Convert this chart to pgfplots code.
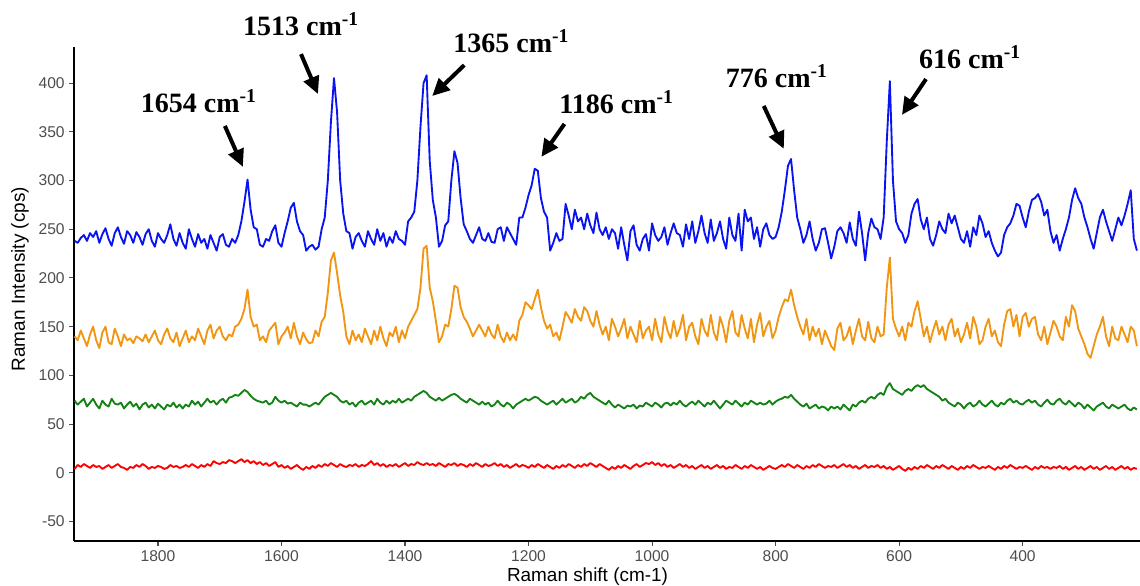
\documentclass[border=0pt]{standalone}
\usepackage{pgfplots}
\pgfplotsset{compat=1.18}
\usepackage{pgfplotstable}
\usepackage{fontspec}
\setmainfont{Liberation Sans}
\newfontfamily\annfont{Liberation Serif}
\usetikzlibrary{arrows.meta}
\definecolor{cblue}{RGB}{10,20,240}
\definecolor{corange}{RGB}{240,150,20}
\definecolor{cgreen}{RGB}{20,130,20}
\definecolor{cred}{RGB}{255,0,0}
\definecolor{tickgrey}{RGB}{77,77,77}

\pgfplotstableread{
x b o g r
1935 238 140 74 4
1930 236 136 70 8
1925 241 146 73 6
1920 244 138 76 9
1915 238 130 68 7
1910 246 142 72 5
1905 242 150 76 8
1900 248 136 70 6
1895 236 128 66 7
1890 245 144 74 4
1885 251 150 70 6
1880 240 134 68 8
1875 233 132 76 5
1870 246 148 71 7
1865 252 140 70 9
1860 242 130 72 6
1855 235 142 66 5
1850 248 136 70 3
1845 244 138 73 6
1840 236 133 68 5
1835 247 140 71 8
1830 242 138 65 6
1825 234 135 70 9
1820 245 142 72 7
1815 250 134 67 4
1810 238 140 70 6
1805 232 146 66 5
1800 246 136 71 7
1795 240 132 68 6
1790 236 142 65 4
1785 244 148 70 5
1780 255 138 68 8
1775 240 134 72 6
1770 233 144 67 7
1765 246 130 70 5
1760 236 138 66 6
1755 230 146 70 8
1750 250 134 68 6
1745 240 140 74 9
1740 232 136 70 7
1735 245 148 73 5
1730 236 140 68 8
1725 240 132 72 6
1720 230 146 76 9
1715 244 152 72 7
1710 236 138 74 12
1705 228 146 70 10
1700 242 150 74 9
1695 245 140 76 11
1690 234 136 72 10
1685 232 142 77 13
1680 240 140 78 12
1675 236 150 80 10
1670 244 152 79 12
1665 258 158 82 14
1660 278 168 85 11
1655 301 188 83 13
1650 270 160 79 10
1645 252 150 76 12
1640 250 152 74 9
1635 234 136 73 11
1630 232 140 72 8
1625 240 134 74 10
1620 238 146 70 7
1615 248 150 72 9
1610 254 154 78 11
1605 236 132 74 6
1600 232 140 72 8
1595 246 144 74 5
1590 258 150 71 7
1585 272 138 72 4
1580 277 154 70 6
1575 258 140 68 8
1570 248 132 72 5
1565 244 144 70 3
1560 228 137 70 6
1555 232 133 68 4
1550 234 134 70 7
1545 229 146 72 5
1540 232 140 70 8
1535 250 155 74 6
1530 262 160 78 9
1525 300 185 80 7
1520 360 218 82 10
1515 405 226 80 8
1510 370 205 78 6
1505 300 182 74 9
1500 266 165 72 7
1495 248 140 74 6
1490 246 132 70 8
1485 230 146 72 7
1480 242 136 68 9
1475 246 142 72 6
1470 238 134 74 8
1465 232 148 70 7
1460 248 140 72 9
1455 240 132 74 12
1450 234 146 70 8
1445 250 136 76 10
1440 238 150 72 7
1435 246 138 70 9
1430 232 130 74 6
1425 242 144 71 8
1420 236 140 74 7
1415 248 150 72 9
1410 240 134 76 6
1405 238 146 72 8
1400 234 138 74 10
1395 258 150 76 7
1390 262 156 74 9
1385 268 162 78 8
1380 300 168 80 11
1375 355 190 82 9
1370 400 230 84 8
1365 408 233 82 10
1360 320 190 78 8
1355 280 176 76 9
1350 262 156 74 7
1345 232 134 77 10
1340 238 140 74 8
1335 254 152 76 6
1330 258 150 78 9
1325 300 168 80 8
1320 330 192 81 10
1315 318 190 79 7
1310 282 170 76 9
1305 255 160 74 8
1300 248 155 72 6
1295 240 148 76 9
1290 236 140 74 7
1285 244 146 72 10
1280 252 152 70 8
1275 240 146 73 6
1270 238 140 70 9
1265 246 150 72 7
1260 237 142 68 8
1255 236 138 70 10
1250 250 152 74 7
1245 252 140 70 9
1240 238 134 68 6
1235 252 144 72 8
1230 246 136 70 5
1225 240 142 66 7
1220 234 136 70 9
1215 262 156 72 6
1210 262 162 74 8
1205 272 175 76 7
1200 285 172 74 5
1195 295 168 76 8
1190 312 178 78 6
1185 310 188 77 9
1180 282 170 74 7
1175 268 156 72 5
1170 262 148 70 8
1165 228 152 72 6
1160 236 140 74 4
1155 246 144 70 7
1150 238 136 73 5
1145 240 150 76 8
1140 276 165 72 6
1135 264 160 74 9
1130 250 154 76 7
1125 270 168 72 5
1120 258 160 74 8
1115 262 156 78 6
1110 250 170 76 9
1105 266 166 80 7
1100 254 156 82 10
1095 246 150 78 8
1090 267 166 76 6
1085 250 152 74 9
1080 244 142 72 7
1075 252 150 70 5
1070 240 136 74 3
1065 250 158 70 6
1060 246 150 67 4
1055 230 140 70 7
1050 252 148 68 5
1045 234 158 66 8
1040 218 138 69 6
1035 248 150 68 4
1030 254 142 70 7
1025 234 134 66 9
1020 228 156 69 6
1015 240 138 68 8
1010 245 146 72 10
1005 228 150 70 9
1000 256 136 68 11
995 244 158 72 8
990 238 142 70 10
985 242 134 67 7
980 252 160 71 9
975 234 146 72 6
970 246 138 69 8
965 256 156 72 5
960 246 140 70 7
955 244 148 74 9
950 232 162 70 6
945 255 136 68 8
940 240 150 71 5
935 258 154 73 7
930 236 140 70 4
925 248 132 74 6
920 264 158 71 8
915 246 146 68 5
910 236 140 72 7
905 260 162 70 4
900 238 144 74 6
895 246 136 70 8
890 258 160 66 5
885 240 150 70 7
880 230 134 74 4
875 262 156 72 6
870 244 166 70 5
865 238 144 74 8
860 266 140 71 6
855 228 162 68 4
850 270 148 72 7
845 258 138 70 5
840 262 158 74 8
835 240 134 72 6
830 252 152 70 4
825 232 164 72 6
820 250 140 70 3
815 256 150 71 5
810 244 156 74 7
805 240 138 70 5
800 242 146 73 4
795 252 160 75 6
790 268 170 76 8
785 290 178 78 6
780 315 176 77 9
775 322 188 80 7
770 290 172 76 5
765 262 160 73 8
760 250 150 70 6
755 236 142 68 4
750 244 158 71 7
745 258 136 66 5
740 240 150 68 8
735 228 140 70 6
730 236 148 66 9
725 250 132 68 7
720 251 146 67 5
715 236 138 64 7
710 220 130 68 6
705 232 126 66 8
700 248 148 68 5
695 252 154 65 7
690 246 136 70 9
685 236 140 67 6
680 257 150 64 8
675 240 132 70 5
670 233 146 68 7
665 268 158 72 4
660 246 140 74 6
655 218 136 72 8
650 246 155 76 5
645 261 138 78 7
640 252 134 76 6
635 250 150 80 8
630 240 140 82 5
625 262 142 80 7
620 340 190 88 4
615 402 221 92 6
610 300 158 86 3
605 258 148 84 5
600 250 140 82 7
595 246 150 80 4
590 236 136 84 2
585 244 154 86 5
580 266 150 84 3
575 276 166 88 6
570 281 176 90 4
565 260 158 88 7
560 250 140 90 5
555 262 150 86 8
550 240 134 84 6
545 233 146 82 4
540 244 156 80 7
535 258 142 78 5
530 250 150 74 8
525 246 136 76 6
520 266 152 72 4
515 256 158 70 7
510 264 140 68 5
505 252 148 72 3
500 240 134 70 6
495 236 142 66 4
490 248 154 70 7
485 232 138 72 5
480 252 160 68 8
475 244 150 70 6
470 264 132 74 4
465 256 136 70 6
460 242 150 68 5
455 248 158 71 7
450 236 140 74 5
445 228 146 70 3
440 222 134 68 6
435 226 130 72 4
430 244 152 70 7
425 252 166 74 5
420 256 168 76 8
415 264 150 72 6
410 276 162 74 4
405 274 140 71 6
400 262 160 70 5
395 252 164 73 7
390 268 150 75 5
385 280 158 72 3
380 282 160 74 6
375 286 142 70 4
370 278 136 68 7
365 264 150 72 5
360 270 132 75 6
355 248 144 71 4
350 236 156 70 6
345 244 150 74 5
340 228 140 76 7
335 240 136 72 4
330 250 160 70 6
325 262 150 74 3
320 280 172 71 5
315 292 166 68 7
310 282 148 72 4
305 276 140 70 6
300 262 132 66 3
295 252 122 70 5
290 240 118 67 7
285 230 130 64 4
280 246 142 68 6
275 262 150 70 3
270 270 160 72 5
265 258 140 68 7
260 248 130 66 4
255 238 150 70 6
250 250 138 68 3
245 262 136 66 5
240 254 150 68 7
235 264 142 70 4
230 276 134 66 6
225 290 150 64 3
220 240 146 67 5
215 228 130 65 4
}\spectra

\begin{document}
\begin{tikzpicture}
\begin{axis}[
  at={(0,0)}, anchor=south west,
  scale only axis, width=799.5pt, height=370.5pt,
  x dir=reverse,
  xmin=210, xmax=1936, ymin=-70, ymax=437,
  axis x line*=bottom, axis y line*=left,
  axis line style={-, black, line width=1.1pt},
  xtick={400,600,...,1800}, ytick={-50,0,...,400},
  tick align=outside, major tick length=3.5pt,
  tick style={tickgrey, line width=0.8pt},
  ticklabel style={font=\fontsize{11.7}{14}\selectfont, text=tickgrey},
  /pgf/number format/assume math mode=true,
  /pgf/number format/1000 sep={},
  xlabel={Raman shift (cm-1)}, ylabel={Raman Intensity (cps)},
  label style={font=\fontsize{14.2}{17}\selectfont},
  xlabel style={at={(axis description cs:0.4817,-0.0729)}, anchor=center},
  ylabel style={at={(axis description cs:-0.0507,0.53)}, anchor=center},
  clip=false,
  every axis plot/.append style={line width=1.4pt, line join=round},
]
\addplot[cblue] table[x=x, y=b] {\spectra};
\addplot[corange] table[x=x, y=o] {\spectra};
\addplot[cgreen] table[x=x, y=g] {\spectra};
\addplot[cred] table[x=x, y=r] {\spectra};

\tikzset{ann/.style={font=\annfont\bfseries\fontsize{21}{24}\selectfont},
         arr/.style={line width=3pt, -{Triangle[length=13pt,width=12pt]}}}
\node[ann] at (axis cs:1733.9,381.6) {1654 cm\textsuperscript{-1}};
\draw[arr] (axis cs:1691.7,356) -- (axis cs:1662.5,314);
\node[ann] at (axis cs:1568.4,460.4) {1513 cm\textsuperscript{-1}};
\draw[arr] (axis cs:1568.4,429.7) -- (axis cs:1540.9,388.7);
\node[ann] at (axis cs:1227.9,443) {1365 cm\textsuperscript{-1}};
\draw[arr] (axis cs:1304.1,418.4) -- (axis cs:1356,386.7);
\node[ann] at (axis cs:1057.6,380.6) {1186 cm\textsuperscript{-1}};
\draw[arr] (axis cs:1141.9,358) -- (axis cs:1179.2,324.3);
\node[ann] at (axis cs:798.1,407.2) {776 cm\textsuperscript{-1}};
\draw[arr] (axis cs:819.2,376.5) -- (axis cs:786.7,332.5);
\node[ann] at (axis cs:485.1,426.6) {616 cm\textsuperscript{-1}};
\draw[arr] (axis cs:556.4,404.1) -- (axis cs:595.4,367.3);
\end{axis}
\pgfresetboundingbox
\path[use as bounding box] (-55.5pt,-33.75pt) rectangle (799.5pt,405.75pt);
\end{tikzpicture}
\end{document}
